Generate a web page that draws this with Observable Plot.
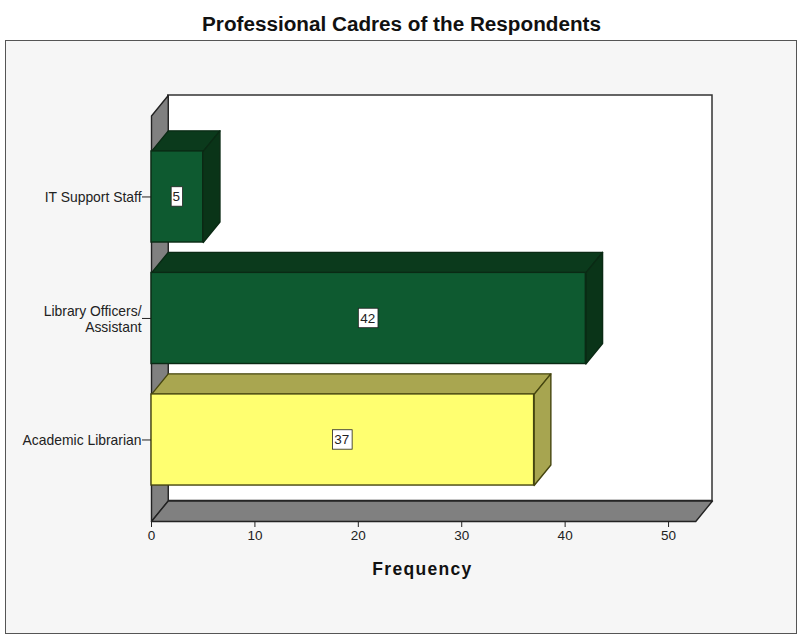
<!DOCTYPE html>
<html>
<head>
<meta charset="utf-8">
<script src="https://cdn.jsdelivr.net/npm/d3@7"></script>
<script src="https://cdn.jsdelivr.net/npm/@observablehq/plot@0.6"></script>
<style>
html,body{margin:0;padding:0;background:#fff;}
#title{height:40px;width:803px;text-align:center;font:bold 20.7px "Liberation Sans",Arial,sans-serif;line-height:48px;color:#111;white-space:nowrap;}
#chart{margin-left:5px;}
#chart svg{display:block;outline:1.5px solid #555;outline-offset:-1px;}
.freq text{letter-spacing:1.3px;}
</style>
</head>
<body>
<div id="title">Professional Cadres of the Respondents</div>
<div id="chart"></div>
<script>
// Data, bottom to top
const categories = ["Academic Librarian", "Library Officers/\nAssistant", "IT Support Staff"];
const frequencies = [37, 42, 5];
const xTicks = [0, 10, 20, 30, 40, 50];
const frontColors = ["#ffff70", "#0e5a30", "#0e5a30"];
const topColors = ["#a9a650", "#0b3a1c", "#0b3a1c"];
const sideColors = ["#a7a550", "#0a3418", "#0a3418"];
const edgeColors = ["#45450f", "#0a2a14", "#0a2a14"];

// Scale extents and 3D depth, in data units
const xMax = 54.25, yMin = -0.671, yMax = 2.835;
const depthX = 1.62, depthY = 0.169, halfBar = 0.375;
const frontRight = xMax - depthX, frontTop = yMax - depthY;
const labelHalfHeight = 0.08;

const rows = categories.map((c, i) => ({
  i, category: c, value: frequencies[i],
  front: frontColors[i], top: topColors[i], side: sideColors[i], edge: edgeColors[i]
}));

const face = (id, pts, fill, edge) => pts.concat([pts[0]]).map(([x, y]) => ({id, x, y, fill, edge}));

const wallFaces = [
  face("wall", [[0, yMin], [depthX, yMin + depthY], [depthX, yMax], [0, frontTop]], "#808080", "#222"),
  face("floor", [[0, yMin], [depthX, yMin + depthY], [xMax, yMin + depthY], [frontRight, yMin]], "#808080", "#222")
].flat();

const barFaces = rows.flatMap(r => {
  const t = r.i + halfBar, b = r.i - halfBar, v = r.value;
  return [
    face("top" + r.i, [[0, t], [depthX, t + depthY], [v + depthX, t + depthY], [v, t]], r.top, r.edge),
    face("side" + r.i, [[v, t], [v + depthX, t + depthY], [v + depthX, b + depthY], [v, b]], r.side, r.edge)
  ];
}).flat();

const polygon = data => Plot.line(data, {
  x: "x", y: "y", z: "id", fill: "fill", stroke: "edge",
  strokeWidth: 1.4, strokeLinejoin: "round", curve: "linear"
});

const font = '"Liberation Sans",Arial,sans-serif';
const chart = Plot.plot({
  width: 792, height: 594,
  marginLeft: 146, marginRight: 85, marginTop: 55, marginBottom: 113,
  style: {background: "#f6f6f6", fontFamily: font, overflow: "visible"},
  x: {domain: [0, xMax], range: [146, 707]},
  y: {domain: [yMin, yMax], range: [481, 55]},
  marks: [
    Plot.rect([0], {x1: depthX, x2: xMax, y1: yMin + depthY, y2: yMax, fill: "#fff", stroke: "#333", strokeWidth: 1.5}),
    polygon(wallFaces),
    polygon(barFaces),
    Plot.rect(rows, {
      x1: 0, x2: "value",
      y1: d => d.i - halfBar, y2: d => d.i + halfBar,
      fill: "front", stroke: "edge", strokeWidth: 1.4
    }),
    Plot.rect(rows, {
      x1: d => d.value / 2 - (String(d.value).length === 1 ? 0.55 : 0.95),
      x2: d => d.value / 2 + (String(d.value).length === 1 ? 0.55 : 0.95),
      y1: d => d.i - labelHalfHeight, y2: d => d.i + labelHalfHeight,
      fill: "#fff", stroke: "#222", strokeWidth: 0.8
    }),
    Plot.text(rows, {x: d => d.value / 2, y: "i", dx: -1, text: d => String(d.value), fontSize: 13.5, fill: "#222"}),
    Plot.axisX({ticks: xTicks, tickFormat: d => d, tickSize: 6, tickPadding: 3, fontSize: 13.5, label: null, stroke: "#222", fill: "#222"}),
    Plot.axisY({
      ticks: [0, 1, 2], tickFormat: d => categories[d], tickSize: 9, tickPadding: 1,
      fontSize: 13.9, label: null, stroke: "#222", fill: "#222", lineHeight: 1.15, textStyle: null
    }),
    Plot.text(["Frequency"], {
      x: 26.2, y: yMin, dy: 48, text: d => d, className: "freq",
      fontSize: 17.5, fontWeight: "bold", fill: "#111", lineAnchor: "middle"
    })
  ]
});
document.getElementById("chart").appendChild(chart);
</script>
</body>
</html>
